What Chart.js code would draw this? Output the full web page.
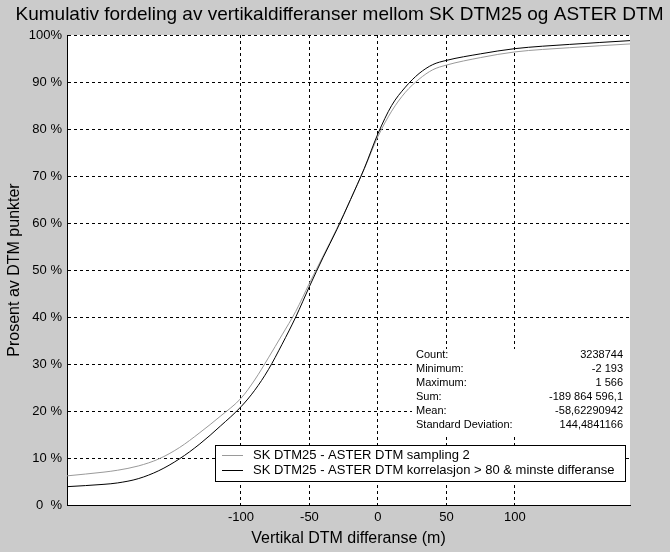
<!DOCTYPE html>
<html>
<head>
<meta charset="utf-8">
<title>Kumulativ fordeling</title>
<script src="https://cdn.jsdelivr.net/npm/chart.js@4/dist/chart.umd.min.js"></script>
<style>
  html, body { margin: 0; padding: 0; background: #cbcbcb; }
  #wrap { width: 670px; height: 552px; position: relative; }
</style>
</head>
<body>
<div id="wrap"><canvas id="cdfChart"></canvas></div>
<script>
const chartTitle = "Kumulativ fordeling av vertikaldifferanser mellom SK DTM25 og ASTER DTM";

// Differences (m) where the curves were read
const diffValues = [
  -227, -200, -190, -175, -160, -145, -130, -115, -100, -90, -80, -70, -60,
  -50, -40, -30, -20, -10, 0, 10, 20, 30, 40, 50, 75, 100, 140, 184,
];

// Cumulative percent, "sampling 2" (grey)
const samplingPct = [
  6.2, 7.0, 7.4, 8.3, 9.8, 12.2, 15.4, 18.9, 22.7, 26.6, 31.3, 36.2, 41.2,
  47.2, 53.0, 58.8, 65.0, 71.5, 78.4, 83.8, 87.8, 90.6, 92.6, 93.6, 95.2,
  96.4, 97.3, 98.1,
];

// Cumulative percent, "korrelasjon > 80 & minste differanse" (black)
const korrPct = [
  3.9, 4.4, 4.7, 5.6, 7.3, 9.8, 13.0, 16.8, 20.9, 24.4, 28.8, 34.2, 40.0,
  46.5, 52.7, 58.6, 65.0, 71.6, 79.0, 85.0, 88.9, 91.8, 93.7, 94.6, 96.0,
  97.1, 98.0, 98.8,
];

const xTicks = [-100, -50, 0, 50, 100];
const yTickLabels = [
  "0  %", "10 %", "20 %", "30 %", "40 %", "50 %",
  "60 %", "70 %", "80 %", "90 %", "100%",
];

const seriesNames = [
  "SK DTM25 - ASTER DTM sampling 2",
  "SK DTM25 - ASTER DTM korrelasjon > 80 & minste differanse",
];
const seriesColors = ["#9a9a9a", "#000000"];

const statLabels = [
  "Count:", "Minimum:", "Maximum:", "Sum:", "Mean:", "Standard Deviation:",
];
const statValues = [
  "3238744", "-2 193", "1 566", "-189 864 596,1", "-58,62290942", "144,4841166",
];

const FONT = "'Liberation Sans', Arial, sans-serif";

// title, white plot area, legend box and statistics panel
const overlayPlugin = {
  id: "overlay",
  beforeDraw(chart) {
    const { ctx, chartArea: a } = chart;
    ctx.save();
    ctx.fillStyle = "#ffffff";
    ctx.fillRect(a.left, a.top, a.right - a.left, a.bottom - a.top);
    ctx.fillStyle = "#000000";
    ctx.font = "19px " + FONT;
    ctx.textAlign = "center";
    ctx.textBaseline = "middle";
    ctx.fillText(chartTitle, 339.5, 15);
    ctx.restore();
  },
  afterDatasetsDraw(chart) {
    const { ctx, chartArea: a } = chart;
    ctx.save();

    // statistics panel
    ctx.fillStyle = "#ffffff";
    ctx.fillRect(412, 349, a.right - 412 - 1, 85);
    ctx.font = "11px " + FONT;
    ctx.fillStyle = "#000000";
    ctx.textBaseline = "middle";
    statLabels.forEach((lab, i) => {
      const y = 355 + i * 14;
      ctx.textAlign = "left";
      ctx.fillText(lab, 416, y);
      ctx.textAlign = "right";
      ctx.fillText(statValues[i], 623, y);
    });

    // legend box
    const bx = 215.5, by = 445.5, bw = 410, bh = 36;
    ctx.fillStyle = "#ffffff";
    ctx.fillRect(bx, by, bw, bh);
    ctx.strokeStyle = "#000000";
    ctx.lineWidth = 1;
    ctx.strokeRect(bx, by, bw, bh);
    ctx.font = "13px " + FONT;
    ctx.textAlign = "left";
    seriesNames.forEach((name, i) => {
      const y = 455.5 + i * 15;
      ctx.strokeStyle = seriesColors[i];
      ctx.beginPath();
      ctx.moveTo(222, y);
      ctx.lineTo(243, y);
      ctx.stroke();
      ctx.fillStyle = "#000000";
      ctx.fillText(name, 253, y);
    });
    ctx.restore();
  },
};

const chart = new Chart(document.getElementById("cdfChart"), {
  type: "line",
  data: {
    datasets: [
      {
        label: seriesNames[0],
        data: diffValues.map((x, i) => ({ x: x, y: samplingPct[i] })),
        borderColor: seriesColors[0],
        borderWidth: 1,
        pointRadius: 0,
        cubicInterpolationMode: "monotone",
        order: 2,
      },
      {
        label: seriesNames[1],
        data: diffValues.map((x, i) => ({ x: x, y: korrPct[i] })),
        borderColor: seriesColors[1],
        borderWidth: 1,
        pointRadius: 0,
        cubicInterpolationMode: "monotone",
        order: 1,
      },
    ],
  },
  options: {
    responsive: true,
    maintainAspectRatio: false,
    animation: false,
    devicePixelRatio: 1,
    layout: { padding: { left: 0, right: 40, top: 35, bottom: 0 } },
    plugins: {
      legend: { display: false },
      tooltip: { enabled: false },
      title: { display: false },
    },
    scales: {
      x: {
        type: "linear",
        min: -227,
        max: 184,
        afterBuildTicks: (scale) => {
          scale.ticks = xTicks.map((v) => ({ value: v }));
        },
        afterFit: (scale) => {
          scale.height = 47;
        },
        grid: {
          color: "#000000",
          lineWidth: 1,
          drawTicks: false,
        },
        border: { display: true, color: "#000000", width: 1, dash: [3, 3] },
        ticks: {
          color: "#000000",
          padding: 5,
          maxRotation: 0,
          font: { family: FONT, size: 13 },
        },
        title: {
          display: true,
          text: "Vertikal DTM differanse (m)",
          color: "#000000",
          font: { family: FONT, size: 16 },
          padding: { top: 2, bottom: 4 },
        },
      },
      y: {
        min: 0,
        max: 100,
        afterFit: (scale) => {
          scale.width = 67;
        },
        grid: {
          color: "#000000",
          lineWidth: 1,
          drawTicks: false,
        },
        border: { display: true, color: "#000000", width: 1, dash: [3, 3] },
        ticks: {
          stepSize: 10,
          color: "#000000",
          padding: 5,
          font: { family: FONT, size: 13 },
          callback: (v, i) => yTickLabels[i],
        },
        title: {
          display: true,
          text: "Prosent av DTM punkter",
          color: "#000000",
          font: { family: FONT, size: 16 },
          padding: { top: 5, bottom: 0 },
        },
      },
    },
  },
  plugins: [overlayPlugin],
});
</script>
</body>
</html>
